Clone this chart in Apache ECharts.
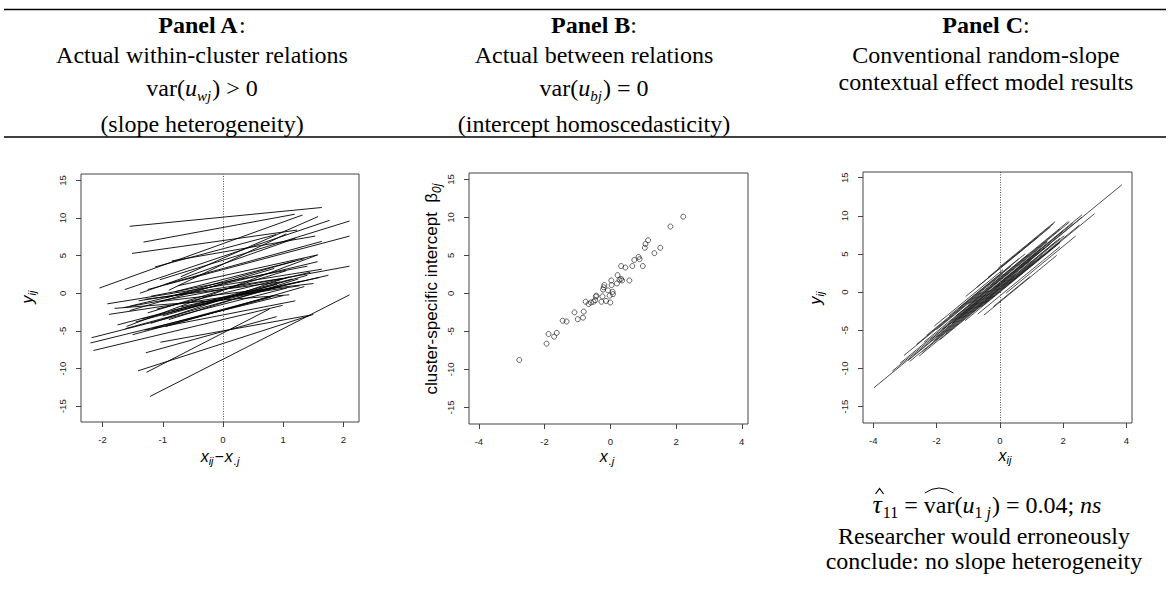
<!DOCTYPE html>
<html>
<head>
<meta charset="utf-8">
<title>Within / between relations</title>
<script src="https://cdn.jsdelivr.net/npm/echarts@6/dist/echarts.min.js"></script>
<style>
html, body { margin: 0; padding: 0; background: #fff; }
#chart { width: 1170px; height: 589px; }
</style>
</head>
<body>
<div id="chart"></div>
<script>
// Panel A: within-cluster lines, each [x1, y1, x2, y2] on centred x
var segmentsA = [
  [-1.55, 8.9, 1.64, 11.4], [-1.32, 6.8, 1.19, 10.5], [-1.51, 5.3, 1.23, 8.4],
  [-2.05, 0.7, 1.32, 10.4], [-1.13, 3.5, 0.88, 7.8], [-0.85, 4.3, 1.53, 7.6],
  [-1.63, 0.5, 1.77, 9.7], [-1.05, 1.8, 2.10, 9.6], [-0.70, 2.2, 1.58, 10.2],
  [-1.25, 0.5, 2.10, 7.6], [-1.38, 0.0, 1.20, 7.3], [-0.95, 1.2, 1.64, 6.9],
  [-0.90, 0.4, 1.05, 7.9], [-0.75, 1.0, 1.57, 5.1], [-1.92, -1.4, 1.64, 3.2],
  [-1.89, -2.8, 1.27, 1.0], [-1.65, -1.9, 2.10, 3.6], [-1.54, -1.7, 1.57, 4.2],
  [-1.60, -4.4, 1.57, 5.1], [-1.30, -0.8, 0.95, 1.5], [-1.00, -3.0, 1.40, 2.4],
  [-1.20, -4.0, 1.10, 2.2], [-0.85, -2.3, 1.30, 1.6], [-1.45, -3.8, 0.90, 1.2],
  [-1.10, -2.1, 1.45, 2.8], [-0.95, -0.6, 1.20, 4.3], [-1.25, -2.6, 1.05, 3.0],
  [-0.70, -1.8, 1.60, 2.1], [-1.55, -2.3, 0.85, 3.3], [-1.75, -4.2, 1.15, 1.9],
  [-0.80, 0.2, 1.35, 4.6], [-1.35, -3.4, 1.75, 2.4], [-1.05, -1.1, 1.50, 1.3],
  [-1.62, -4.7, 0.95, 0.9], [-0.90, -3.5, 1.25, 1.9], [-1.40, -1.0, 1.00, 2.0],
  [-1.15, -4.6, 0.85, -0.3], [-1.80, -2.0, 1.10, -0.2], [-0.95, -4.4, 1.35, 0.9],
  [-1.20, -0.4, 1.40, 3.6], [-1.50, -5.5, 0.80, -0.5], [-1.30, -4.9, 1.20, -1.0],
  [-2.15, -7.6, 0.99, -1.6], [-2.20, -6.6, 1.00, -0.3], [-2.18, -5.9, 1.06, 0.7],
  [-1.04, -6.5, 1.45, -2.9], [-1.28, -7.9, 0.89, -3.1], [-1.27, -10.5, 0.77, -2.1],
  [-1.41, -10.3, 1.50, -2.8], [-1.21, -13.7, 2.10, -0.2]
];

// Panel B: cluster mean x.j vs cluster-specific intercept
var pointsB = [
  [-2.77, -8.77], [-1.94, -6.62], [-1.88, -5.35], [-1.71, -5.7], [-1.63, -5.2],
  [-1.45, -3.6], [-1.33, -3.7], [-1.09, -2.5], [-0.99, -3.4], [-0.83, -3.2],
  [-0.81, -2.4], [-0.75, -1.1], [-0.66, -1.4], [-0.59, -1.2], [-0.51, -1.1],
  [-0.46, -0.9], [-0.44, -0.4], [-0.42, -0.3], [-0.27, -1.1], [-0.24, -0.4],
  [-0.22, 0.5], [-0.20, 0.8], [-0.18, 1.1], [-0.13, -1.0], [-0.07, 0.4],
  [-0.02, -0.3], [0.00, -1.2], [0.03, 1.7], [0.04, 1.1], [0.07, 0.2],
  [0.08, -0.1], [0.20, 1.3], [0.22, 2.4], [0.28, 1.8], [0.33, 1.9],
  [0.33, 3.6], [0.36, 1.7], [0.46, 3.4], [0.58, 1.7], [0.67, 3.6],
  [0.73, 4.4], [0.86, 4.8], [0.89, 4.5], [0.99, 3.6], [1.05, 6.0],
  [1.07, 6.5], [1.15, 7.0], [1.34, 5.3], [1.52, 6.0], [1.83, 8.8], [2.22, 10.1]
];

// Panel C: fitted random-slope lines on raw x, each [x1, y1, x2, y2]
var segmentsC = [
  [-3.98, -12.53, -0.67, -1.28], [-3.40, -10.36, -0.44, -0.30], [-3.15, -9.31, -0.35, 0.21],
  [-3.03, -8.30, -0.60, -0.04], [-2.85, -9.09, -0.50, -1.10], [-2.63, -6.84, 0.10, 2.44],
  [-2.31, -5.65, 0.35, 3.39], [-2.55, -8.37, -0.20, -0.38], [-2.07, -4.44, 0.10, 2.94],
  [-2.90, -8.96, 0.20, 1.58], [-2.45, -7.83, 0.45, 2.03], [-1.60, -3.09, 0.60, 4.39],
  [-2.20, -6.28, 0.70, 3.58], [-2.40, -6.56, 0.30, 2.62], [-1.90, -6.26, 1.00, 3.60],
  [-2.10, -6.44, 0.50, 2.40], [-1.08, -0.57, 1.20, 7.18], [-2.00, -4.90, 0.90, 4.96],
  [-1.70, -5.38, 1.10, 4.14], [-1.50, -4.10, 1.40, 5.76], [-0.73, 0.62, 1.60, 8.54],
  [-1.80, -4.82, 1.30, 5.72], [-1.30, -2.12, 0.80, 5.02], [-2.00, -6.00, 1.00, 4.20],
  [-1.40, -3.16, 1.50, 6.70], [-1.20, -3.48, 1.80, 6.72], [-0.38, 1.91, 1.70, 8.98],
  [-1.50, -4.00, 1.20, 5.18], [-1.10, -3.74, 1.90, 6.46], [-1.60, -3.94, 1.50, 6.60],
  [-0.90, -2.76, 1.35, 4.89], [-1.00, -1.60, 1.90, 8.26], [-0.06, 3.10, 1.75, 9.25],
  [-1.30, -3.52, 1.60, 6.34], [-0.60, -1.94, 1.91, 6.59], [-1.20, -2.88, 2.00, 8.00],
  [-0.70, -2.88, 1.91, 5.99], [-0.90, -1.36, 2.20, 9.18], [-0.50, -3.00, 1.80, 4.82],
  [-0.70, -1.92, 2.04, 7.40], [-0.45, -0.93, 1.90, 7.06], [-0.30, 0.88, 2.17, 9.28],
  [-0.20, -1.88, 0.96, 2.06], [-0.50, -1.60, 1.91, 6.59], [-0.10, 0.86, 2.30, 9.02],
  [0.00, 0.23, 2.52, 8.80], [-0.20, 0.32, 2.60, 9.84], [0.20, -0.12, 2.40, 7.36],
  [0.30, 1.12, 3.00, 10.30], [0.60, 3.34, 2.60, 10.14], [0.67, 3.24, 3.86, 14.08]
];

var ticksXA = [-2, -1, 0, 1, 2];
var ticksXBC = [-4, -2, 0, 2, 4];
var ticksY = [-15, -10, -5, 0, 5, 10, 15];

var SERIF = '"Liberation Serif", "Times New Roman", serif';
var SANS = '"Liberation Sans", Arial, sans-serif';
var HS = 24; // header / note text size

var ctx = document.createElement('canvas').getContext('2d');
function fontOf(p) {
  return (p.i ? 'italic ' : '') + (p.b ? 'bold ' : '') + p.s + 'px ' + (p.f || SERIF);
}
function textWidth(str, font) { ctx.font = font; return ctx.measureText(str).width; }

// lay pieces of text side by side, centred on cx, on a common baseline
function run(cx, base, pieces) {
  var total = 0;
  pieces.forEach(function (p) {
    p.font = fontOf(p);
    p.w = textWidth(p.t, p.font);
    total += p.w + (p.gap || 0);
  });
  var x = cx - total / 2;
  var out = [];
  pieces.forEach(function (p) {
    p.x = x;
    out.push({
      type: 'text', x: x, y: base + (p.dy || 0) - 0.3 * p.s, silent: true,
      style: { text: p.t, font: p.font, fill: '#000', align: 'left', verticalAlign: 'middle' }
    });
    x += p.w + (p.gap || 0);
  });
  return out;
}
// same, turned to read bottom-to-top; bx is the baseline's screen x
function vrun(bx, cy, pieces) {
  return { type: 'group', x: bx, y: cy, rotation: Math.PI / 2, children: run(0, 0, pieces) };
}

var graphics = [];
function add(list) { graphics = graphics.concat(list); }

// table rules
graphics.push({ type: 'line', silent: true, shape: { x1: 4, y1: 9.5, x2: 1166, y2: 9.5 }, style: { stroke: '#000', lineWidth: 1.5 } });
graphics.push({ type: 'line', silent: true, shape: { x1: 4, y1: 137, x2: 1166, y2: 137 }, style: { stroke: '#000', lineWidth: 1.5 } });

// column headers
add(run(202, 32, [{ t: 'Panel A', s: HS, b: 1 }, { t: ':', s: HS }]));
add(run(202, 62, [{ t: 'Actual within-cluster relations', s: HS }]));
add(run(202, 95, [{ t: 'var(', s: HS }, { t: 'u', s: HS, i: 1 }, { t: 'wj', s: 15, i: 1, dy: 5, gap: 1 }, { t: ') > 0', s: HS }]));
add(run(202, 131, [{ t: '(slope heterogeneity)', s: HS }]));

add(run(594, 32, [{ t: 'Panel B', s: HS, b: 1 }, { t: ':', s: HS }]));
add(run(594, 62, [{ t: 'Actual between relations', s: HS }]));
add(run(594, 95, [{ t: 'var(', s: HS }, { t: 'u', s: HS, i: 1 }, { t: 'bj', s: 15, i: 1, dy: 5, gap: 1 }, { t: ') = 0', s: HS }]));
add(run(594, 131, [{ t: '(intercept homoscedasticity)', s: HS }]));

add(run(986, 32, [{ t: 'Panel C', s: HS, b: 1 }, { t: ':', s: HS }]));
add(run(986, 62, [{ t: 'Conventional random-slope', s: HS }]));
add(run(986, 89, [{ t: 'contextual effect model results', s: HS }]));

// result under panel C
var tau = { t: '\u03c4', s: 26, i: 1, gap: 1 };
var varp = { t: 'var', s: HS };
add(run(987, 512, [tau, { t: '11', s: 16, dy: 5 }, { t: ' = ', s: HS }, varp, { t: '(', s: HS },
  { t: 'u', s: HS, i: 1 }, { t: '1', s: 16, dy: 5 }, { t: ' j', s: 16, i: 1, dy: 5, gap: 1 },
  { t: ') = 0.04; ', s: HS }, { t: 'ns', s: HS, i: 1 }]));
graphics.push({ type: 'bezierCurve', silent: true,
  shape: { x1: varp.x + 1, y1: 493, x2: varp.x + varp.w - 1, y2: 493, cpx1: varp.x + varp.w / 2, cpy1: 483 },
  style: { stroke: '#000', lineWidth: 1, fill: 'none' } });
graphics.push({ type: 'polyline', silent: true,
  shape: { points: [[tau.x + 3, 494], [tau.x + 7, 488.5], [tau.x + 11, 494]] },
  style: { stroke: '#000', lineWidth: 1.2, fill: 'none' } });
add(run(984, 543, [{ t: 'Researcher would erroneously', s: HS }]));
add(run(984, 568, [{ t: 'conclude: no slope heterogeneity', s: HS }]));

// axis titles
add(run(220, 461, [{ t: 'x', s: 16, f: SANS, i: 1 }, { t: 'ij', s: 11, f: SANS, i: 1, dy: 3, gap: 1 },
  { t: '\u2212', s: 16, f: SANS, gap: 1 }, { t: 'x', s: 16, f: SANS, i: 1, gap: 1 }, { t: '.j', s: 11, f: SANS, i: 1, dy: 3 }]));
add(run(607, 461, [{ t: 'x', s: 16, f: SANS, i: 1, gap: 1 }, { t: '.j', s: 11, f: SANS, i: 1, dy: 3 }]));
add(run(1005, 460, [{ t: 'x', s: 16, f: SANS, i: 1 }, { t: 'ij', s: 11, f: SANS, i: 1, dy: 3 }]));
graphics.push(vrun(32, 297, [{ t: 'y', s: 16, f: SANS, i: 1 }, { t: 'ij', s: 11, f: SANS, i: 1, dy: 3 }]));
graphics.push(vrun(820, 298, [{ t: 'y', s: 16, f: SANS, i: 1 }, { t: 'ij', s: 11, f: SANS, i: 1, dy: 3 }]));
graphics.push(vrun(437, 289, [{ t: 'cluster-specific intercept  ', s: 17, f: SANS }, { t: '\u03b2', s: 17, f: SANS },
  { t: '0j', s: 12, f: SANS, i: 1, dy: 4 }]));

var boxes = [
  { left: 81, top: 174, width: 278, height: 248 },
  { left: 469, top: 173, width: 279, height: 251 },
  { left: 863, top: 172, width: 269, height: 251 }
];
var xRange = [[-2.357, 2.257], [-4.30, 4.19], [-4.325, 4.18]];
var yRange = [[-17.1, 15.85], [-17.2, 15.85], [-17.15, 15.75]];
var xTicks = [ticksXA, ticksXBC, ticksXBC];

var tickStyle = { color: '#444', width: 1 };
var labelStyle = { fontFamily: SANS, fontSize: 9.5, color: '#222' };

var option = {
  animation: false,
  backgroundColor: '#fff',
  grid: boxes.map(function (b) {
    return Object.assign({ show: true, borderColor: '#444', borderWidth: 1, containLabel: false, outerBoundsMode: 'none' }, b);
  }),
  xAxis: [0, 1, 2].map(function (i) {
    return {
      type: 'value', gridIndex: i, min: xRange[i][0], max: xRange[i][1], position: 'bottom',
      axisLine: { show: false, onZero: false }, splitLine: { show: false },
      axisTick: { show: true, length: 5, lineStyle: tickStyle, customValues: xTicks[i] },
      axisLabel: Object.assign({ margin: 12, customValues: xTicks[i] }, labelStyle)
    };
  }),
  yAxis: [0, 1, 2].map(function (i) {
    return {
      type: 'value', gridIndex: i, min: yRange[i][0], max: yRange[i][1], position: 'left',
      axisLine: { show: false, onZero: false }, splitLine: { show: false },
      axisTick: { show: true, length: 5, lineStyle: tickStyle, customValues: ticksY },
      axisLabel: Object.assign({ margin: 14, rotate: 90, customValues: ticksY }, labelStyle)
    };
  }),
  series: [
    {
      type: 'lines', coordinateSystem: 'cartesian2d', xAxisIndex: 0, yAxisIndex: 0, silent: true,
      lineStyle: { color: '#000', width: 0.9, opacity: 1 },
      data: segmentsA.map(function (s) { return { coords: [[s[0], s[1]], [s[2], s[3]]] }; })
    },
    {
      type: 'scatter', xAxisIndex: 0, yAxisIndex: 0, data: [], silent: true,
      markLine: { silent: true, symbol: ['none', 'none'], label: { show: false },
        lineStyle: { type: [1, 1.5], color: '#555', width: 1 }, data: [{ xAxis: 0 }] }
    },
    {
      type: 'scatter', xAxisIndex: 1, yAxisIndex: 1, silent: true,
      symbol: 'circle', symbolSize: 5,
      itemStyle: { color: 'rgba(0,0,0,0)', borderColor: '#111', borderWidth: 0.8 },
      data: pointsB
    },
    {
      type: 'lines', coordinateSystem: 'cartesian2d', xAxisIndex: 2, yAxisIndex: 2, silent: true,
      lineStyle: { color: '#222', width: 0.8, opacity: 1 },
      data: segmentsC.map(function (s) { return { coords: [[s[0], s[1]], [s[2], s[3]]] }; })
    },
    {
      type: 'scatter', xAxisIndex: 2, yAxisIndex: 2, data: [], silent: true,
      markLine: { silent: true, symbol: ['none', 'none'], label: { show: false },
        lineStyle: { type: [1, 1.5], color: '#555', width: 1 }, data: [{ xAxis: 0 }] }
    }
  ],
  graphic: graphics
};

var chart = echarts.init(document.getElementById('chart'), null, { renderer: 'svg' });
chart.setOption(option);
</script>
</body>
</html>
